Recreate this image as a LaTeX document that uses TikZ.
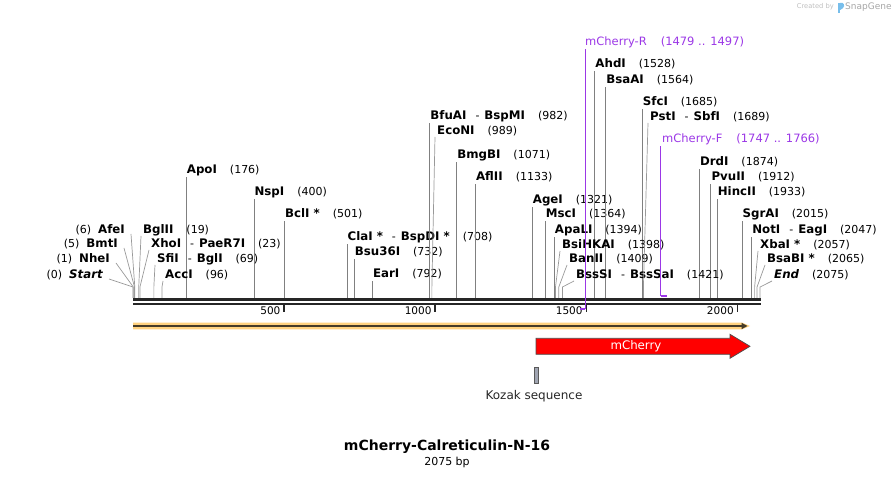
\documentclass[tikz,border=0pt]{standalone}
\usepackage{fontspec}
\setmainfont{DejaVu Sans}
\usetikzlibrary{arrows.meta}
\definecolor{primercol}{RGB}{155,55,230}
\definecolor{bandfill}{RGB}{255,210,128}
\definecolor{bandline}{RGB}{70,60,40}
\definecolor{kozakfill}{RGB}{160,165,178}
\definecolor{logoblue}{RGB}{120,190,235}
\newcommand{\bpx}[1]{133+0.3022*#1}
\newcommand{\ename}[1]{{\fontsize{11.8}{13}\selectfont\bfseries #1}}
\newcommand{\enzsp}{\hspace{13pt}}
\newcommand{\enzdash}{\hspace{9pt}-\hspace{5pt}}

\begin{document}
\begin{tikzpicture}[x=1pt,y=-1pt,
    enz/.style={font=\fontsize{11}{13}\selectfont, inner sep=0pt, text height=8.5pt, text depth=2.5pt},
    cut/.style={draw=black!50, line width=0.7pt},
    cutfan/.style={draw=black!40, line width=0.7pt},
    primer/.style={draw=primercol, line width=0.9pt},
    primerlab/.style={font=\fontsize{11.5}{13}\selectfont, text=primercol, inner sep=0pt, text height=8.5pt, text depth=2.5pt},
    ticklab/.style={font=\fontsize{10.5}{12}\selectfont, inner sep=0pt}]

    \useasboundingbox (0,0) rectangle (895,478);

    % Sequence axis
    \draw[line width=2.7pt, black!85] (133,299.6) -- (761,299.6);
    \draw[line width=2pt, black!85] (133,303.7) -- (761,303.7);
    \foreach \t in {500,1000,1500,2000}{
        \coordinate (t\t) at ({\bpx{\t}},304.5);
        \draw[line width=1.6pt, black!85] (t\t) -- ++(0,7.5);
        \node[ticklab, anchor=east] at ([xshift=-3.5pt,yshift=-6.5pt]t\t) {\t};
    }

    % Enzymes with straight connectors
    \foreach \nm/\bp/\ly/\txt in {
        ApoI/176/170/{\ename{ApoI}\enzsp(176)},
        NspI/400/192/{\ename{NspI}\enzsp(400)},
        BclI/501/214/{\ename{BclI *}\enzsp(501)},
        ClaI/708/237/{\ename{ClaI *}\enzdash\ename{BspDI *}\enzsp(708)},
        Bsu36I/732/252/{\ename{Bsu36I}\enzsp(732)},
        EarI/792/274/{\ename{EarI}\enzsp(792)},
        BfuAI/982/116/{\ename{BfuAI}\enzdash\ename{BspMI}\enzsp(982)},
        BmgBI/1071/155/{\ename{BmgBI}\enzsp(1071)},
        AflII/1133/177/{\ename{AflII}\enzsp(1133)},
        AgeI/1321/200/{\ename{AgeI}\enzsp(1321)},
        MscI/1364/214/{\ename{MscI}\enzsp(1364)},
        ApaLI/1394/230/{\ename{ApaLI}\enzsp(1394)},
        AhdI/1528/64/{\ename{AhdI}\enzsp(1528)},
        BsaAI/1564/80/{\ename{BsaAI}\enzsp(1564)},
        SfcI/1685/102/{\ename{SfcI}\enzsp(1685)},
        DrdI/1874/162/{\ename{DrdI}\enzsp(1874)},
        PvuII/1912/177/{\ename{PvuII}\enzsp(1912)},
        HincII/1933/192/{\ename{HincII}\enzsp(1933)},
        SgrAI/2015/214/{\ename{SgrAI}\enzsp(2015)},
        NotI/2047/230/{\ename{NotI}\enzdash\ename{EagI}\enzsp(2047)}}{
        \coordinate (s\nm) at ({\bpx{\bp}},298);
        \node[enz, anchor=base west] (\nm) at ({\bpx{\bp}+0.5},{\ly+4}) {\txt};
        \draw[cut] (s\nm) -- (s\nm |- \nm.south);
    }

    % Enzymes fanned out to the right
    \foreach \nm/\bp/\lx/\ly/\txt in {
        BglII/19/143/230/{\ename{BglII}\enzsp(19)},
        XhoI/23/151/244/{\ename{XhoI}\enzdash\ename{PaeR7I}\enzsp(23)},
        SfiI/69/157/259/{\ename{SfiI}\enzdash\ename{BglI}\enzsp(69)},
        AccI/96/165/275/{\ename{AccI}\enzsp(96)},
        EcoNI/989/437/131/{\ename{EcoNI}\enzsp(989)},
        BsiHKAI/1398/562/245/{\ename{BsiHKAI}\enzsp(1398)},
        BanII/1409/569/259/{\ename{BanII}\enzsp(1409)},
        BssSI/1421/576/275/{\ename{BssSI}\enzdash\ename{BssSaI}\enzsp(1421)},
        PstI/1689/650/117/{\ename{PstI}\enzdash\ename{SbfI}\enzsp(1689)},
        XbaI/2057/760/245/{\ename{XbaI *}\enzsp(2057)},
        BsaBI/2065/767/259/{\ename{BsaBI *}\enzsp(2065)},
        End/2075/774/275/{\ename{\itshape End}\enzsp(2075)}}{
        \coordinate (s\nm) at ({\bpx{\bp}},298);
        \node[enz, anchor=base west] (\nm) at (\lx,{\ly+4}) {\txt};
        \draw[cutfan] (s\nm) -- ++(0,-11) -- ([shift={(-2pt,-5pt)}]\nm.west);
    }

    % Enzymes fanned out to the left
    \foreach \nm/\bp/\rx/\ly/\txt in {
        Start/0/103/275/{(0)\hspace{7pt}\ename{\itshape Start}},
        NheI/1/110/259/{(1)\hspace{7pt}\ename{NheI}},
        BmtI/5/118/244/{(5)\hspace{7pt}\ename{BmtI}},
        AfeI/6/125/230/{(6)\hspace{7pt}\ename{AfeI}}}{
        \coordinate (s\nm) at ({\bpx{\bp}},298);
        \node[enz, anchor=base east] (\nm) at (\rx,{\ly+4}) {\txt};
        \draw[cutfan] (s\nm) -- ++(0,-11) -- ([shift={(6pt,-3pt)}]\nm.east);
    }

    % Primers
    \coordinate (sR) at ({\bpx{1497}},309);
    \coordinate (sRend) at ({\bpx{1479}},309);
    \node[primerlab, anchor=base west] (mCherryR) at (585,46) {mCherry-R\hspace{14pt}(1479 .. 1497)};
    \draw[primer] (sR) -- (sR |- mCherryR.south);
    \draw[primer, line width=1.8pt] (sRend) -- (sR);
    \coordinate (sF) at ({\bpx{1747}},296);
    \coordinate (sFend) at ({\bpx{1766}},296);
    \node[primerlab, anchor=base west] (mCherryF) at (662,143) {mCherry-F\hspace{14pt}(1747 .. 1766)};
    \draw[primer] (sF) -- (sF |- mCherryF.south);
    \draw[primer, line width=1.8pt] (sF) -- (sFend);

    % Full-length feature band
    \fill[bandfill] (133,322.6) -- (742,322.6) -- (750,326) -- (742,329.4) -- (133,329.4) -- cycle;
    \draw[bandline, line width=1.2pt, -{Triangle[length=6pt,width=6pt]}] (133,326) -- (747.5,326);

    % mCherry CDS
    \draw[fill=red, draw=black!70, line width=0.7pt] (536,338.3) -- (730,338.3) -- (730,334.3)
        -- (750,346.3) -- (730,358.3) -- (730,354.3) -- (536,354.3) -- cycle;
    \node[font=\fontsize{11.8}{13}\selectfont, text=white] (mCherry) at (636,346.3) {mCherry};

    % Kozak sequence
    \node[draw=black!65, fill=kozakfill, line width=0.6pt, inner sep=0pt,
        minimum width=4pt, minimum height=16pt] (kozak) at (536.3,375.3) {};
    \node[font=\fontsize{12}{14}\selectfont, text=black!85] (kozaklab) at (534,396) {Kozak sequence};

    % Title
    \node[font=\fontsize{14}{16}\selectfont\bfseries] (title) at (447,447) {mCherry-Calreticulin-N-16};
    \node[font=\fontsize{11}{13}\selectfont] (size) at (447,462.5) {2075 bp};

    % Credit
    \node[font=\fontsize{6.7}{8}\selectfont, text=black!25, anchor=east, inner sep=0pt] (created) at (834,7) {Created by};
    \fill[logoblue] (837.8,3) rectangle (840.2,13);
    \fill[logoblue] (840.2,3) -- (842.5,3) .. controls (845,4) and (845,8) .. (840.2,10) -- cycle;
    \node[font=\fontsize{9}{10}\selectfont, text=black!35, anchor=west, inner sep=0pt] (snapgene) at (845,7.5) {SnapGene};
\end{tikzpicture}
\end{document}
